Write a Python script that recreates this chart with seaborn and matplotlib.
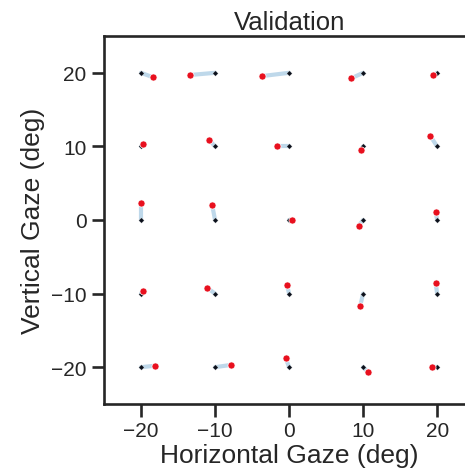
import numpy as np
import pandas as pd
import matplotlib
matplotlib.use("Agg")
import matplotlib.pyplot as plt
import seaborn as sns

# Target positions (deg)
target_x = [-20, -10, 0, 10, 20,
            -20, -10, 0, 10, 20,
            -20, -10, 0, 10, 20,
            -20, -10, 0, 10, 20,
            -20, -10, 0, 10, 20]
target_y = [20, 20, 20, 20, 20,
            10, 10, 10, 10, 10,
            0, 0, 0, 0, 0,
            -10, -10, -10, -10, -10,
            -20, -20, -20, -20, -20]
# Measured gaze positions (deg)
gaze_x = [-18.4, -13.4, -3.7, 8.4, 19.5,
          -19.7, -10.8, -1.7, 9.7, 19.05,
          -20.0, -10.4, 0.45, 9.4, 19.8,
          -19.7, -11.1, -0.3, 9.6, 19.8,
          -18.1, -7.9, -0.45, 10.6, 19.35]
gaze_y = [19.4, 19.7, 19.55, 19.25, 19.65,
          10.3, 10.9, 10.0, 9.55, 11.45,
          2.25, 2.07, 0.0, -0.77, 1.1,
          -9.6, -9.2, -8.8, -11.7, -8.55,
          -19.8, -19.7, -18.8, -20.6, -20.0]
x_ticks = [-20, -10, 0, 10, 20]
y_ticks = [-20, -10, 0, 10, 20]

sns.set_theme(context="talk", style="ticks")
plt.rcParams["font.family"] = ["Liberation Sans", "DejaVu Sans"]

targets = pd.DataFrame({"x": target_x, "y": target_y})
gaze = pd.DataFrame({"x": gaze_x, "y": gaze_y})
n = len(target_x)
pairs = pd.DataFrame({
    "x": list(target_x) + list(gaze_x),
    "y": list(target_y) + list(gaze_y),
    "pair": list(range(n)) + list(range(n)),
    "order": [0] * n + [1] * n,
}).sort_values(["pair", "order"])

fig = plt.figure(figsize=(4.65, 4.77), dpi=100)
ax = fig.add_axes([0.2237, 0.151, 0.796, 0.7714])

sns.lineplot(data=pairs, x="x", y="y", units="pair", estimator=None, sort=False,
             color="#a9cbe4", alpha=0.75, linewidth=3, ax=ax, legend=False)
sns.scatterplot(data=targets, x="x", y="y", color="#0a0f1a", marker="D", s=8,
                edgecolor="white", linewidth=0.2, ax=ax, zorder=3, legend=False)
sns.scatterplot(data=gaze, x="x", y="y", color="#e8101e", s=26,
                edgecolor="white", linewidth=0.5, ax=ax, zorder=4, legend=False)

ax.set_xlim(-25, 25)
ax.set_ylim(-25, 25)
ax.set_xticks(x_ticks)
ax.set_yticks(y_ticks)
ax.tick_params(labelsize=15, length=9, width=1.9)
ax.set_xlabel("Horizontal Gaze (deg)", fontsize=19, labelpad=2)
ax.set_ylabel("Vertical Gaze (deg)", fontsize=19, labelpad=4)
ax.set_title("Validation", fontsize=18.5, pad=5)
for sp in ax.spines.values():
    sp.set_linewidth(1.9)

fig.savefig("out.png", dpi=100)
